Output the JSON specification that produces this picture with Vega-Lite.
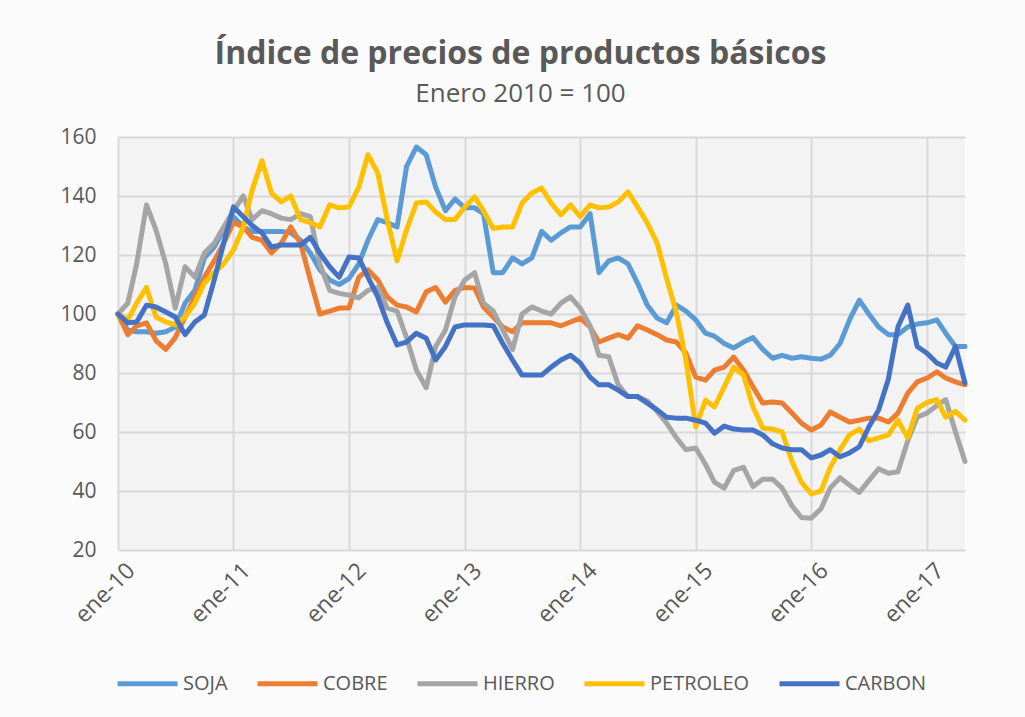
{
  "$schema": "https://vega.github.io/schema/vega-lite/v6.json",
  "width": 847,
  "height": 413,
  "autosize": {"type": "none"},
  "padding": {"left": 118, "top": 137, "right": 60, "bottom": 167},
  "background": "#fbfbfb",
  "title": {
    "text": "Índice de precios de productos básicos",
    "subtitle": "Enero 2010 = 100",
    "anchor": "middle",
    "dx": -21,
    "offset": 18,
    "font": "Open Sans",
    "fontSize": 32,
    "fontWeight": "bold",
    "color": "#595959",
    "subtitleFont": "Open Sans",
    "subtitleFontSize": 26,
    "subtitleColor": "#595959",
    "subtitlePadding": 10
  },
  "data": {
    "values": [
      {"fecha": "2010-01-01", "SOJA": 100, "COBRE": 100, "HIERRO": 100, "PETROLEO": 100, "CARBON": 100},
      {"fecha": "2010-02-01", "SOJA": 94.5, "COBRE": 93, "HIERRO": 103.7, "PETROLEO": 98, "CARBON": 97},
      {"fecha": "2010-03-01", "SOJA": 94, "COBRE": 96, "HIERRO": 117, "PETROLEO": 103.7, "CARBON": 97.3},
      {"fecha": "2010-04-01", "SOJA": 94, "COBRE": 97, "HIERRO": 137, "PETROLEO": 109, "CARBON": 103},
      {"fecha": "2010-05-01", "SOJA": 93.5, "COBRE": 91, "HIERRO": 128.5, "PETROLEO": 99, "CARBON": 102.4},
      {"fecha": "2010-06-01", "SOJA": 94, "COBRE": 88, "HIERRO": 117, "PETROLEO": 97.3, "CARBON": 100.7},
      {"fecha": "2010-07-01", "SOJA": 95.6, "COBRE": 92, "HIERRO": 102, "PETROLEO": 96.3, "CARBON": 99},
      {"fecha": "2010-08-01", "SOJA": 103.7, "COBRE": 99, "HIERRO": 116, "PETROLEO": 99, "CARBON": 93},
      {"fecha": "2010-09-01", "SOJA": 108, "COBRE": 105.8, "HIERRO": 112.5, "PETROLEO": 103.7, "CARBON": 97.3},
      {"fecha": "2010-10-01", "SOJA": 119, "COBRE": 112.5, "HIERRO": 120.7, "PETROLEO": 110.5, "CARBON": 99.7},
      {"fecha": "2010-11-01", "SOJA": 122.7, "COBRE": 118, "HIERRO": 124, "PETROLEO": 114, "CARBON": 111.5},
      {"fecha": "2010-12-01", "SOJA": 128.5, "COBRE": 124, "HIERRO": 129.5, "PETROLEO": 117, "CARBON": 124},
      {"fecha": "2011-01-01", "SOJA": 133, "COBRE": 131, "HIERRO": 135, "PETROLEO": 121.7, "CARBON": 136.3},
      {"fecha": "2011-02-01", "SOJA": 129.5, "COBRE": 129.5, "HIERRO": 140, "PETROLEO": 129.5, "CARBON": 133},
      {"fecha": "2011-03-01", "SOJA": 128, "COBRE": 126, "HIERRO": 132, "PETROLEO": 142, "CARBON": 130},
      {"fecha": "2011-04-01", "SOJA": 128, "COBRE": 125, "HIERRO": 135, "PETROLEO": 152, "CARBON": 127.5},
      {"fecha": "2011-05-01", "SOJA": 128, "COBRE": 120.7, "HIERRO": 134, "PETROLEO": 141, "CARBON": 122.7},
      {"fecha": "2011-06-01", "SOJA": 128, "COBRE": 124, "HIERRO": 132.5, "PETROLEO": 138, "CARBON": 123.4},
      {"fecha": "2011-07-01", "SOJA": 127.5, "COBRE": 129.5, "HIERRO": 132, "PETROLEO": 140, "CARBON": 123.4},
      {"fecha": "2011-08-01", "SOJA": 125, "COBRE": 124, "HIERRO": 134, "PETROLEO": 132, "CARBON": 123.4},
      {"fecha": "2011-09-01", "SOJA": 120.7, "COBRE": 111.5, "HIERRO": 133, "PETROLEO": 131, "CARBON": 126},
      {"fecha": "2011-10-01", "SOJA": 115, "COBRE": 100, "HIERRO": 117, "PETROLEO": 129.5, "CARBON": 120.7},
      {"fecha": "2011-11-01", "SOJA": 111.5, "COBRE": 101, "HIERRO": 108, "PETROLEO": 137, "CARBON": 116},
      {"fecha": "2011-12-01", "SOJA": 110, "COBRE": 102, "HIERRO": 107, "PETROLEO": 136, "CARBON": 112.5},
      {"fecha": "2012-01-01", "SOJA": 112, "COBRE": 102, "HIERRO": 106.4, "PETROLEO": 136.3, "CARBON": 119.3},
      {"fecha": "2012-02-01", "SOJA": 117, "COBRE": 112.5, "HIERRO": 105.5, "PETROLEO": 143, "CARBON": 119},
      {"fecha": "2012-03-01", "SOJA": 125, "COBRE": 115, "HIERRO": 108, "PETROLEO": 154, "CARBON": 112.5},
      {"fecha": "2012-04-01", "SOJA": 132, "COBRE": 111.5, "HIERRO": 109, "PETROLEO": 147.8, "CARBON": 105.8},
      {"fecha": "2012-05-01", "SOJA": 131, "COBRE": 105.8, "HIERRO": 102, "PETROLEO": 132, "CARBON": 97},
      {"fecha": "2012-06-01", "SOJA": 129.5, "COBRE": 103, "HIERRO": 101, "PETROLEO": 118, "CARBON": 89.5},
      {"fecha": "2012-07-01", "SOJA": 150, "COBRE": 102.4, "HIERRO": 92, "PETROLEO": 128.5, "CARBON": 90.5},
      {"fecha": "2012-08-01", "SOJA": 156.6, "COBRE": 100.7, "HIERRO": 81, "PETROLEO": 137.6, "CARBON": 93.5},
      {"fecha": "2012-09-01", "SOJA": 154, "COBRE": 107.5, "HIERRO": 75, "PETROLEO": 138, "CARBON": 91.8},
      {"fecha": "2012-10-01", "SOJA": 143, "COBRE": 109, "HIERRO": 89, "PETROLEO": 134.6, "CARBON": 84.4},
      {"fecha": "2012-11-01", "SOJA": 135, "COBRE": 104, "HIERRO": 94.6, "PETROLEO": 132, "CARBON": 89},
      {"fecha": "2012-12-01", "SOJA": 139, "COBRE": 108, "HIERRO": 105.8, "PETROLEO": 132, "CARBON": 95.6},
      {"fecha": "2013-01-01", "SOJA": 136, "COBRE": 109, "HIERRO": 111.5, "PETROLEO": 136.3, "CARBON": 96.3},
      {"fecha": "2013-02-01", "SOJA": 136, "COBRE": 108.8, "HIERRO": 114, "PETROLEO": 139.7, "CARBON": 96.3},
      {"fecha": "2013-03-01", "SOJA": 134, "COBRE": 102.4, "HIERRO": 103.7, "PETROLEO": 135, "CARBON": 96.3},
      {"fecha": "2013-04-01", "SOJA": 114, "COBRE": 99, "HIERRO": 101, "PETROLEO": 129, "CARBON": 96},
      {"fecha": "2013-05-01", "SOJA": 114, "COBRE": 95.6, "HIERRO": 94.6, "PETROLEO": 129.5, "CARBON": 90},
      {"fecha": "2013-06-01", "SOJA": 119, "COBRE": 94, "HIERRO": 88, "PETROLEO": 129.5, "CARBON": 84.4},
      {"fecha": "2013-07-01", "SOJA": 117, "COBRE": 97, "HIERRO": 100, "PETROLEO": 137.6, "CARBON": 79.3},
      {"fecha": "2013-08-01", "SOJA": 119, "COBRE": 97, "HIERRO": 102.4, "PETROLEO": 141, "CARBON": 79.3},
      {"fecha": "2013-09-01", "SOJA": 128, "COBRE": 97, "HIERRO": 101, "PETROLEO": 142.7, "CARBON": 79.3},
      {"fecha": "2013-10-01", "SOJA": 125, "COBRE": 97, "HIERRO": 100, "PETROLEO": 137.6, "CARBON": 82},
      {"fecha": "2013-11-01", "SOJA": 127.5, "COBRE": 96, "HIERRO": 103.7, "PETROLEO": 133.6, "CARBON": 84.4},
      {"fecha": "2013-12-01", "SOJA": 129.5, "COBRE": 97.3, "HIERRO": 105.8, "PETROLEO": 137, "CARBON": 86},
      {"fecha": "2014-01-01", "SOJA": 129.5, "COBRE": 98.6, "HIERRO": 102, "PETROLEO": 133, "CARBON": 83.4},
      {"fecha": "2014-02-01", "SOJA": 134, "COBRE": 95.6, "HIERRO": 96, "PETROLEO": 137, "CARBON": 78.6},
      {"fecha": "2014-03-01", "SOJA": 114, "COBRE": 90.5, "HIERRO": 86, "PETROLEO": 136, "CARBON": 76},
      {"fecha": "2014-04-01", "SOJA": 118, "COBRE": 91.8, "HIERRO": 85.5, "PETROLEO": 136.3, "CARBON": 76},
      {"fecha": "2014-05-01", "SOJA": 119, "COBRE": 93, "HIERRO": 76, "PETROLEO": 138, "CARBON": 74.2},
      {"fecha": "2014-06-01", "SOJA": 117, "COBRE": 91.8, "HIERRO": 72, "PETROLEO": 141.4, "CARBON": 72},
      {"fecha": "2014-07-01", "SOJA": 110.5, "COBRE": 96, "HIERRO": 72, "PETROLEO": 136.3, "CARBON": 72},
      {"fecha": "2014-08-01", "SOJA": 103, "COBRE": 94.6, "HIERRO": 70.5, "PETROLEO": 130.8, "CARBON": 69.8},
      {"fecha": "2014-09-01", "SOJA": 98.6, "COBRE": 93, "HIERRO": 67, "PETROLEO": 124, "CARBON": 67.5},
      {"fecha": "2014-10-01", "SOJA": 97, "COBRE": 91.2, "HIERRO": 63, "PETROLEO": 112, "CARBON": 65},
      {"fecha": "2014-11-01", "SOJA": 103, "COBRE": 90.5, "HIERRO": 58, "PETROLEO": 100.4, "CARBON": 64.7},
      {"fecha": "2014-12-01", "SOJA": 101, "COBRE": 86.7, "HIERRO": 54, "PETROLEO": 84.4, "CARBON": 64.7},
      {"fecha": "2015-01-01", "SOJA": 98, "COBRE": 78.6, "HIERRO": 54.6, "PETROLEO": 61.7, "CARBON": 64},
      {"fecha": "2015-02-01", "SOJA": 93.5, "COBRE": 77.6, "HIERRO": 49, "PETROLEO": 70.8, "CARBON": 63},
      {"fecha": "2015-03-01", "SOJA": 92.5, "COBRE": 81, "HIERRO": 43, "PETROLEO": 68.5, "CARBON": 59.6},
      {"fecha": "2015-04-01", "SOJA": 90, "COBRE": 82, "HIERRO": 41, "PETROLEO": 75.3, "CARBON": 62},
      {"fecha": "2015-05-01", "SOJA": 88.5, "COBRE": 85.4, "HIERRO": 47, "PETROLEO": 82, "CARBON": 61},
      {"fecha": "2015-06-01", "SOJA": 90.5, "COBRE": 81, "HIERRO": 48, "PETROLEO": 79.3, "CARBON": 60.7},
      {"fecha": "2015-07-01", "SOJA": 92, "COBRE": 75.3, "HIERRO": 41.5, "PETROLEO": 68.5, "CARBON": 60.7},
      {"fecha": "2015-08-01", "SOJA": 88, "COBRE": 69.8, "HIERRO": 44, "PETROLEO": 61.3, "CARBON": 59},
      {"fecha": "2015-09-01", "SOJA": 85, "COBRE": 70.2, "HIERRO": 44, "PETROLEO": 61, "CARBON": 56},
      {"fecha": "2015-10-01", "SOJA": 86, "COBRE": 69.8, "HIERRO": 41, "PETROLEO": 60, "CARBON": 54.6},
      {"fecha": "2015-11-01", "SOJA": 85, "COBRE": 66.4, "HIERRO": 35, "PETROLEO": 50, "CARBON": 54},
      {"fecha": "2015-12-01", "SOJA": 85.5, "COBRE": 63, "HIERRO": 31, "PETROLEO": 43, "CARBON": 54},
      {"fecha": "2016-01-01", "SOJA": 85, "COBRE": 60.7, "HIERRO": 30.8, "PETROLEO": 39, "CARBON": 51.2},
      {"fecha": "2016-02-01", "SOJA": 84.7, "COBRE": 62.4, "HIERRO": 34, "PETROLEO": 40, "CARBON": 52.2},
      {"fecha": "2016-03-01", "SOJA": 86, "COBRE": 66.8, "HIERRO": 41, "PETROLEO": 48, "CARBON": 54},
      {"fecha": "2016-04-01", "SOJA": 90, "COBRE": 65, "HIERRO": 44.5, "PETROLEO": 54, "CARBON": 51.6},
      {"fecha": "2016-05-01", "SOJA": 98, "COBRE": 63.4, "HIERRO": 42, "PETROLEO": 59, "CARBON": 52.9},
      {"fecha": "2016-06-01", "SOJA": 104.7, "COBRE": 64, "HIERRO": 39.5, "PETROLEO": 61, "CARBON": 55},
      {"fecha": "2016-07-01", "SOJA": 100, "COBRE": 64.7, "HIERRO": 43.5, "PETROLEO": 57, "CARBON": 61.7},
      {"fecha": "2016-08-01", "SOJA": 95.6, "COBRE": 64.7, "HIERRO": 47.5, "PETROLEO": 58, "CARBON": 67.5},
      {"fecha": "2016-09-01", "SOJA": 93, "COBRE": 63.4, "HIERRO": 46, "PETROLEO": 59, "CARBON": 78},
      {"fecha": "2016-10-01", "SOJA": 93, "COBRE": 66.4, "HIERRO": 46.5, "PETROLEO": 64, "CARBON": 95.6},
      {"fecha": "2016-11-01", "SOJA": 95.6, "COBRE": 73.2, "HIERRO": 57, "PETROLEO": 58, "CARBON": 103},
      {"fecha": "2016-12-01", "SOJA": 96.6, "COBRE": 77, "HIERRO": 65, "PETROLEO": 68, "CARBON": 89},
      {"fecha": "2017-01-01", "SOJA": 97, "COBRE": 78.3, "HIERRO": 66.4, "PETROLEO": 70, "CARBON": 86.7},
      {"fecha": "2017-02-01", "SOJA": 98, "COBRE": 80.4, "HIERRO": 69, "PETROLEO": 71, "CARBON": 83.4},
      {"fecha": "2017-03-01", "SOJA": 93.5, "COBRE": 78.3, "HIERRO": 71, "PETROLEO": 65, "CARBON": 82},
      {"fecha": "2017-04-01", "SOJA": 89, "COBRE": 77, "HIERRO": 60, "PETROLEO": 67, "CARBON": 89},
      {"fecha": "2017-05-01", "SOJA": 89, "COBRE": 76, "HIERRO": 50, "PETROLEO": 64, "CARBON": 76.6}
    ]
  },
  "transform": [
    {"fold": ["SOJA", "COBRE", "HIERRO", "PETROLEO", "CARBON"], "as": ["serie", "valor"]}
  ],
  "mark": {"type": "line", "strokeWidth": 5, "strokeJoin": "round", "strokeCap": "round"},
  "encoding": {
    "x": {
      "field": "fecha",
      "type": "temporal",
      "scale": {
        "type": "utc",
        "domain": [
          {"year": 2010, "month": 1, "date": 1, "utc": true},
          {"year": 2017, "month": 5, "date": 1, "utc": true}
        ]
      },
      "axis": {
        "title": null,
        "values": [
          {"year": 2010, "month": 1, "date": 1, "utc": true},
          {"year": 2011, "month": 1, "date": 1, "utc": true},
          {"year": 2012, "month": 1, "date": 1, "utc": true},
          {"year": 2013, "month": 1, "date": 1, "utc": true},
          {"year": 2014, "month": 1, "date": 1, "utc": true},
          {"year": 2015, "month": 1, "date": 1, "utc": true},
          {"year": 2016, "month": 1, "date": 1, "utc": true},
          {"year": 2017, "month": 1, "date": 1, "utc": true}
        ],
        "labelExpr": "'ene-' + utcFormat(datum.value, '%y')",
        "labelAngle": -45,
        "labelAlign": "right",
        "labelBaseline": "top",
        "labelPadding": 9,
        "labelOffset": 5,
        "labelFont": "Open Sans",
        "labelFontSize": 23,
        "labelColor": "#595959",
        "ticks": false,
        "domain": false,
        "grid": true,
        "gridColor": "#d9d9d9",
        "gridWidth": 2
      }
    },
    "y": {
      "field": "valor",
      "type": "quantitative",
      "scale": {"domain": [20, 160], "nice": false, "zero": false},
      "axis": {
        "title": null,
        "values": [20, 40, 60, 80, 100, 120, 140, 160],
        "labelFont": "Open Sans",
        "labelFontSize": 21,
        "labelColor": "#595959",
        "labelPadding": 22,
        "ticks": false,
        "domain": false,
        "grid": true,
        "gridColor": "#d9d9d9",
        "gridWidth": 2
      }
    },
    "color": {
      "field": "serie",
      "type": "nominal",
      "scale": {
        "domain": ["SOJA", "COBRE", "HIERRO", "PETROLEO", "CARBON"],
        "range": ["#5B9BD5", "#ED7D31", "#A5A5A5", "#FFC000", "#4472C4"]
      },
      "legend": {
        "title": null,
        "orient": "none",
        "legendX": -3,
        "legendY": 514,
        "direction": "horizontal",
        "symbolType": "stroke",
        "symbolSize": 3600,
        "symbolStrokeWidth": 5,
        "labelFont": "Open Sans",
        "labelFontSize": 20,
        "labelColor": "#595959",
        "labelOffset": 3,
        "columnPadding": 19
      }
    }
  },
  "config": {
    "view": {"fill": "#f3f3f3", "stroke": null}
  }
}
